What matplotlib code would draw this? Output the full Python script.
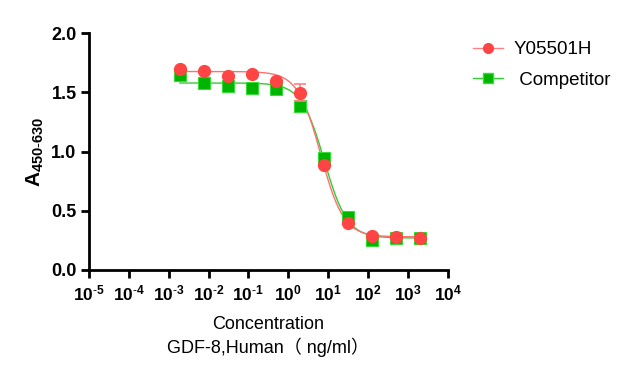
import numpy as np
import matplotlib
matplotlib.use("Agg")
import matplotlib.pyplot as plt

plt.rcParams['font.family'] = ['Liberation Sans', 'Noto Sans CJK SC', 'DejaVu Sans']
plt.rcParams['mathtext.fontset'] = 'custom'
plt.rcParams['mathtext.rm'] = 'Liberation Sans'
plt.rcParams['mathtext.bf'] = 'Liberation Sans:bold'

# 4-fold dilution series, ng/ml
conc = [2000, 500, 125, 31.25, 7.8125, 1.953, 0.4883, 0.1221, 0.03052, 0.007629, 0.001907]
y05501h = [0.273, 0.276, 0.287, 0.394, 0.883, 1.496, 1.595, 1.650, 1.637, 1.680, 1.700]
y05501h_err = [0.0, 0.0, 0.0, 0.0, 0.0, 0.07, 0.0, 0.0, 0.0, 0.0, 0.0]
competitor = [0.273, 0.273, 0.253, 0.445, 0.943, 1.384, 1.527, 1.540, 1.556, 1.575, 1.646]

# 4PL fit parameters: top, bottom, ec50, hill
fit_y05501h = (1.675, 0.28, 6.5, 1.5)
fit_competitor = (1.578, 0.27, 8.0, 1.5)

xticks = [1e-5, 1e-4, 1e-3, 1e-2, 1e-1, 1e0, 1e1, 1e2, 1e3, 1e4]
xticklabels = [r'$\mathbf{10^{\text{-}5}}$', r'$\mathbf{10^{\text{-}4}}$',
               r'$\mathbf{10^{\text{-}3}}$', r'$\mathbf{10^{\text{-}2}}$',
               r'$\mathbf{10^{\text{-}1}}$', r'$\mathbf{10^{0}}$', r'$\mathbf{10^{1}}$',
               r'$\mathbf{10^{2}}$', r'$\mathbf{10^{3}}$', r'$\mathbf{10^{4}}$']
yticks = [0.0, 0.5, 1.0, 1.5, 2.0]


def four_pl(x, top, bottom, ec50, hill):
    return bottom + (top - bottom) / (1 + (x / ec50) ** hill)


fig = plt.figure(figsize=(6.27, 3.75), dpi=100)
ax = fig.add_axes([0.142, 0.28, 0.572, 0.632])

xs = np.logspace(np.log10(min(conc)), np.log10(max(conc)), 300)
ax.plot(xs, four_pl(xs, *fit_competitor), color='#33cc33', lw=1.0, zorder=2)
ax.plot(xs, four_pl(xs, *fit_y05501h), color='#ff7070', lw=1.0, zorder=3)

ax.plot(conc, competitor, ls='none', marker='s', ms=8.5, color='#00b400',
        mec='#33dd33', mew=0.8, zorder=4)
ax.errorbar(conc, y05501h, yerr=y05501h_err, ls='none', marker='o', ms=8.5,
            color='#ff4444', ecolor='#ff8080', elinewidth=1.2, capsize=4,
            capthick=1.2, zorder=5)

# legend handles
h1, = ax.plot([], [], color='#ff8080', lw=1.0, marker='o', ms=7, mfc='#ff4444', mec='#ff4444')
h2, = ax.plot([], [], color='#33cc33', lw=1.0, marker='s', ms=7, mfc='#00b400', mec='#33dd33')
fig.legend([h1, h2], ['Y05501H', ' Competitor'], loc='upper left',
           bbox_to_anchor=(0.728, 0.935), frameon=False, fontsize=13.5,
           handlelength=1.6, handletextpad=0.55, labelspacing=0.7)

ax.set_xscale('log')
ax.set_xlim(1e-5, 1e4)
ax.set_ylim(0, 2.0)
ax.set_xticks(xticks)
ax.set_xticklabels(xticklabels, fontsize=12.5)
ax.minorticks_off()
ax.set_yticks(yticks)
ax.set_yticklabels(['%.1f' % v for v in yticks], fontsize=13, fontweight='bold')

for side in ['top', 'right']:
    ax.spines[side].set_visible(False)
for side in ['left', 'bottom']:
    ax.spines[side].set_linewidth(2)
ax.tick_params(width=2, length=6, direction='out', pad=3)
ax.tick_params(axis='x', pad=4)

ax.set_ylabel(r'$\mathbf{A_{450\text{-}630}}$', fontsize=15, labelpad=4)
ax.set_xlabel('Concentration\nGDF-8,Human（ ng/ml）', fontsize=13,
              linespacing=1.25, labelpad=9)

fig.savefig('out.png', dpi=100)
